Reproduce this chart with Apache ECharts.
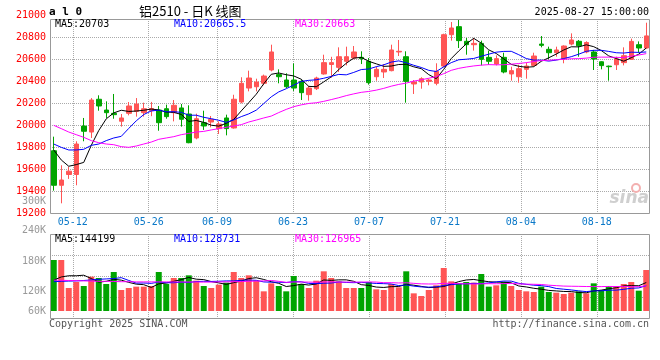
<!DOCTYPE html>
<html><head><meta charset="utf-8">
<script src="https://cdn.jsdelivr.net/npm/echarts@6/dist/echarts.min.js"></script>
<style>html,body{margin:0;padding:0;background:#fff}#c{width:660px;height:360px}</style>
</head><body><div id="c"></div>
<script>
const dates = ['05-07','05-08','05-09','05-12','05-13','05-14','05-15','05-16','05-19','05-20','05-21','05-22','05-23','05-26','05-27','05-28','05-29','05-30','06-03','06-04','06-05','06-06','06-09','06-10','06-11','06-12','06-13','06-16','06-17','06-18','06-19','06-20','06-23','06-24','06-25','06-26','06-27','06-30','07-01','07-02','07-03','07-04','07-07','07-08','07-09','07-10','07-11','07-14','07-15','07-16','07-17','07-18','07-21','07-22','07-23','07-24','07-25','07-28','07-29','07-30','07-31','08-01','08-04','08-05','08-06','08-07','08-08','08-11','08-12','08-13','08-14','08-15','08-18','08-19','08-20','08-21','08-22','08-25','08-26','08-27'];
const xLabels = ['05-12','05-26','06-09','06-23','07-07','07-21','08-04','08-18'];
const priceTicks = {min:19200, max:21000, step:200};

const open = [19766,19452,19550,19550,19990,19936,20234,20136,20106,20034,
20106,20124,20112,20130,20136,20148,20112,20155,20100,19882,
20021,20027,19967,20064,19973,20209,20336,20348,20379,20500,
20458,20409,20409,20397,20276,20330,20464,20550,20524,20579,
20609,20615,20579,20439,20482,20494,20664,20621,20373,20391,
20397,20379,20536,20821,20894,20761,20730,20742,20615,20555,
20615,20464,20439,20506,20542,20736,20688,20657,20603,20736,
20761,20664,20664,20575,20535,20548,20567,20597,20730,20700];
const close = [19452,19500,19580,19827,19943,20227,20173,20112,20094,20064,
20173,20191,20148,20150,20021,20076,20179,20052,19839,20057,
19991,20052,20009,19967,20234,20379,20427,20391,20445,20664,
20439,20348,20336,20294,20336,20427,20567,20567,20621,20621,
20664,20603,20385,20506,20506,20682,20670,20397,20391,20421,
20409,20488,20821,20882,20767,20730,20742,20597,20579,20603,
20482,20494,20512,20536,20627,20724,20657,20682,20718,20773,
20720,20750,20600,20540,20530,20600,20630,20760,20700,20810];
const high = [19894,19634,19620,19852,20064,20245,20270,20215,20282,20100,
20209,20245,20203,20210,20173,20185,20227,20191,20179,20103,
20130,20082,20033,20094,20275,20434,20494,20421,20458,20730,
20506,20470,20560,20415,20355,20439,20639,20620,20706,20712,
20718,20670,20609,20530,20554,20730,20773,20670,20409,20434,
20421,20561,20830,20936,20955,20791,20791,20767,20676,20633,
20657,20530,20548,20567,20657,20809,20712,20712,20724,20833,
20773,20761,20682,20579,20540,20621,20706,20785,20760,20930];
const low = [19403,19288,19510,19452,19852,19882,20130,20064,20057,19985,
20088,20076,20076,20080,19948,20057,20033,19985,19834,19870,
19955,19979,19918,19906,19967,20197,20306,20306,20361,20488,
20379,20336,20310,20227,20221,20318,20458,20430,20482,20542,
20597,20554,20367,20403,20427,20488,20627,20203,20282,20330,
20361,20361,20525,20767,20700,20639,20676,20542,20548,20542,
20470,20403,20385,20421,20530,20706,20597,20621,20561,20724,
20621,20652,20500,20506,20403,20500,20542,20591,20657,20694];
const ma5 = [19773,19682,19625,19640,19660,19815,19950,20056,20110,20134,
20123,20127,20134,20145,20137,20117,20115,20096,20033,20041,
20024,19998,19990,20015,20051,20128,20203,20280,20375,20461,
20473,20457,20446,20416,20351,20348,20392,20438,20504,20561,
20608,20615,20579,20556,20533,20536,20550,20552,20529,20512,
20458,20421,20506,20604,20673,20738,20788,20744,20683,20650,
20601,20551,20534,20525,20530,20579,20611,20645,20682,20711,
20710,20729,20712,20677,20628,20604,20580,20612,20644,20700];
const ma10 = [19827,19797,19773,19773,19779,19815,19827,19858,19882,19897,
19969,20038,20095,20128,20135,20120,20121,20115,20089,20089,
20070,20057,20043,20024,20046,20076,20101,20135,20195,20256,
20301,20330,20363,20396,20406,20411,20425,20442,20460,20456,
20478,20504,20509,20530,20547,20572,20583,20566,20543,20523,
20497,20486,20529,20567,20593,20598,20605,20625,20644,20662,
20669,20670,20639,20604,20590,20590,20581,20590,20604,20621,
20644,20670,20679,20679,20669,20657,20654,20662,20660,20664];
const ma30 = [19997,19967,19936,19912,19888,19858,19839,19827,19821,19803,
19797,19809,19827,19845,19870,19882,19894,19912,19924,19936,
19942,19955,19967,19979,19991,20003,20027,20045,20064,20081,
20113,20142,20167,20183,20196,20202,20215,20231,20248,20267,
20283,20297,20305,20317,20333,20353,20369,20381,20399,20411,
20425,20440,20467,20497,20515,20527,20537,20544,20549,20547,
20548,20553,20559,20567,20577,20586,20589,20593,20597,20602,
20603,20608,20616,20617,20617,20615,20613,20626,20636,20649];

const vol = [257600,257600,116200,146500,126300,173400,166700,136400,197000,106000,
116200,122900,122900,126300,197000,136400,166700,166700,180100,153200,
126300,116200,133000,143100,197000,166700,180100,153200,99300,139700,
126300,99300,176800,136400,116200,153200,200400,166700,149800,116200,
116200,116200,146500,109400,106000,136400,119500,200400,89200,75800,
106000,129600,217200,149800,139700,146500,143100,186900,122900,129600,
146500,126300,106000,99300,96000,122900,96000,92600,85900,92600,
99300,89200,139700,106000,126300,126300,136400,146500,102700,207000];
const vma5 = [156000,172000,178000,178000,180800,164000,145800,149900,160000,155900,
144500,135700,133000,118900,137100,141100,149900,158600,169400,160600,
158600,148500,141800,134400,143100,151200,164000,168000,159300,147800,
139700,123600,128300,135700,131000,136400,156600,154600,157300,157300,
149900,133000,129000,120900,118900,122900,123600,134300,130300,124300,
118200,120200,123600,135700,148500,156600,159300,153200,147800,145800,
145800,142400,126300,121500,114800,110100,104000,101400,98700,98000,
93300,91900,101300,105400,112100,117500,126900,128300,127600,143800];
const vma10 = [148000,150000,151000,152000,154000,157000,160000,162000,164000,168400,
154200,140800,141400,139400,146500,142800,142800,145800,144100,148800,
149900,149200,150200,151900,151900,154900,156200,154900,146800,145500,
145500,143800,148200,147500,139400,138100,140100,141400,146500,144100,
143100,144800,141800,139100,138100,136400,128300,131700,125600,121600,
120500,121900,129000,133000,136400,137400,139700,138400,141800,147100,
151200,150900,139700,134700,130300,128000,123200,113800,110100,106400,
101700,98000,101400,102000,105100,105400,109400,114800,116500,127900];
const vma30 = [156000,155000,154000,153000,152000,151000,150000,150000,149000,148000,
148000,147000,147000,147000,147000,147000,147000,146500,146500,146500,
146000,146000,147000,147000,148000,149000,150000,151000,152000,154200,
149800,144600,146600,146300,145900,145200,146400,147400,145800,146100,
146100,145900,146700,146100,143100,143100,141500,142700,139600,137100,
136400,136800,139600,139900,137900,137300,136000,137200,137900,137600,
138300,139200,136800,135600,134900,133900,130400,128000,125800,125000,
124500,123600,123300,123200,123900,123600,124100,122300,122800,127200];
const volTickLabels = ['300K','240K','180K','120K','60K'];

const titleText = '铝2510 - 日K 线图';
const codeText = 'a l 0';
const timeText = '2025-08-27 15:00:00';
const priceLegend = ['MA5:20703','MA10:20665.5','MA30:20663'];
const volLegend = ['MA5:144199','MA10:128731','MA30:126965'];

// ---------- styling / layout ----------
const MONO = '"DejaVu Sans Mono", "Liberation Mono", monospace';
const RED = '#FF5555', GREEN = '#00A400';
const LEG_COLORS = ['#000000','#0000FF','#FF00FF'];
const LEG_X = [55, 174, 295];
const GRID_LINE = {color:'#aaaaaa', width:1, type:[1,1]};
const volLabelY = [201, 230, 261, 291, 311];
const isLabelDate = (i, v) => xLabels.indexOf(v !== undefined ? v : dates[i]) >= 0;

const chart = echarts.init(document.getElementById('c'), null, {renderer:'canvas'});
const lineS = (name, data, color, xi, yi) => ({
  name, type:'line', data, xAxisIndex:xi, yAxisIndex:yi, symbol:'none', silent:true,
  lineStyle:{color, width:1}, z:5
});

const T = (text, x, y, fill, font, align, z) => ({type:'text', z: z || 200,
  style:{text, x, y, fill, font, textAlign:align, textVerticalAlign:'middle', align, verticalAlign:'middle'}});
const texts = [];
texts.push(T(codeText, 49, 12, '#000', 'bold 11px '+MONO, 'left'));
texts.push(T(titleText, 139, 11, '#000', '13px "Noto Sans CJK SC"', 'left'));
texts.push(T(timeText, 649, 12, '#000', '10px '+MONO, 'right'));
priceLegend.forEach((t,i)=>texts.push(T(t, LEG_X[i], 24, LEG_COLORS[i], '10px '+MONO, 'left')));
volLegend.forEach((t,i)=>texts.push(T(t, LEG_X[i], 239, LEG_COLORS[i], '10px '+MONO, 'left')));
volTickLabels.forEach((t,i)=>texts.push(T(t, 46, volLabelY[i], '#999', '10px '+MONO, 'right')));
texts.push(T('Copyright 2025 SINA.COM', 49, 324, '#555', '10px '+MONO, 'left'));
texts.push(T('http://finance.sina.com.cn', 649, 324, '#555', '10px '+MONO, 'right'));
texts.push(T('sina', 649, 199, '#cfcfcf', 'italic bold 17px "DejaVu Sans"', 'right', 1));
texts.push({type:'circle', z:1, shape:{cx:636, cy:188, r:4}, style:{fill:'none', stroke:'#f3b0b0', lineWidth:2}});

const option = {
  animation:false,
  backgroundColor:'#fff',
  textStyle:{fontFamily:MONO},
  grid:[{left:50, right:10, top:15, height:198},{left:50, right:10, top:234, height:84.5}],
  xAxis:[
    {type:'category', gridIndex:0, data:dates, boundaryGap:true, show:false},
    {type:'category', gridIndex:0, data:dates, boundaryGap:false, position:'bottom',
     axisLine:{show:false}, axisTick:{show:false},
     axisLabel:{interval:isLabelDate, color:'#0A78C8', fontFamily:MONO, fontSize:10, margin:4},
     splitLine:{show:true, interval:isLabelDate, lineStyle:GRID_LINE}},
    {type:'category', gridIndex:1, data:dates, boundaryGap:true, show:false},
    {type:'category', gridIndex:1, data:dates, boundaryGap:false, position:'bottom',
     axisLine:{show:false}, axisTick:{show:false}, axisLabel:{show:false},
     splitLine:{show:true, interval:isLabelDate, lineStyle:GRID_LINE}}
  ],
  yAxis:[
    {type:'value', gridIndex:0, min:priceTicks.min, max:priceTicks.max, interval:priceTicks.step, position:'left',
     axisLine:{show:false}, axisTick:{show:false},
     axisLabel:{color:'#FF0000', fontFamily:MONO, fontSize:10, margin:4, formatter:(v)=>String(v)},
     splitLine:{show:true, showMinLine:false, showMaxLine:false, lineStyle:GRID_LINE}},
    {type:'value', gridIndex:1, min:-37875, max:388850, show:false, splitLine:{show:false}},
    {type:'value', gridIndex:1, min:0, max:4, interval:1, position:'left',
     axisLine:{show:false}, axisTick:{show:false}, axisLabel:{show:false},
     splitLine:{show:true, showMinLine:false, showMaxLine:false, lineStyle:GRID_LINE}}
  ],
  series:[
    {type:'candlestick', xAxisIndex:0, yAxisIndex:0, barWidth:5, silent:true,
     data: dates.map((d,i)=>[open[i], close[i], low[i], high[i]]),
     itemStyle:{color:RED, color0:GREEN, borderColor:RED, borderColor0:GREEN, borderWidth:1}},
    lineS('MA5', ma5, LEG_COLORS[0], 0, 0),
    lineS('MA10', ma10, LEG_COLORS[1], 0, 0),
    lineS('MA30', ma30, LEG_COLORS[2], 0, 0),
    {type:'bar', xAxisIndex:2, yAxisIndex:1, barWidth:6, silent:true,
     data: vol.map((v,i)=>({value:v, itemStyle:{color: close[i] >= open[i] ? RED : GREEN}}))},
    lineS('VMA5', vma5, LEG_COLORS[0], 2, 1),
    lineS('VMA10', vma10, LEG_COLORS[1], 2, 1),
    lineS('VMA30', vma30, LEG_COLORS[2], 2, 1)
  ],
  graphic:[
    {type:'rect', z:150, shape:{x:50, y:11, width:601, height:8}, style:{fill:'#fff'}},
    {type:'rect', z:160, shape:{x:50.5, y:19.5, width:599, height:194}, style:{fill:'none', stroke:'#999', lineWidth:1}},
    {type:'rect', z:160, shape:{x:50.5, y:234.5, width:599, height:84}, style:{fill:'none', stroke:'#999', lineWidth:1}}
  ].concat(texts)
};
chart.setOption(option);
</script></body></html>
